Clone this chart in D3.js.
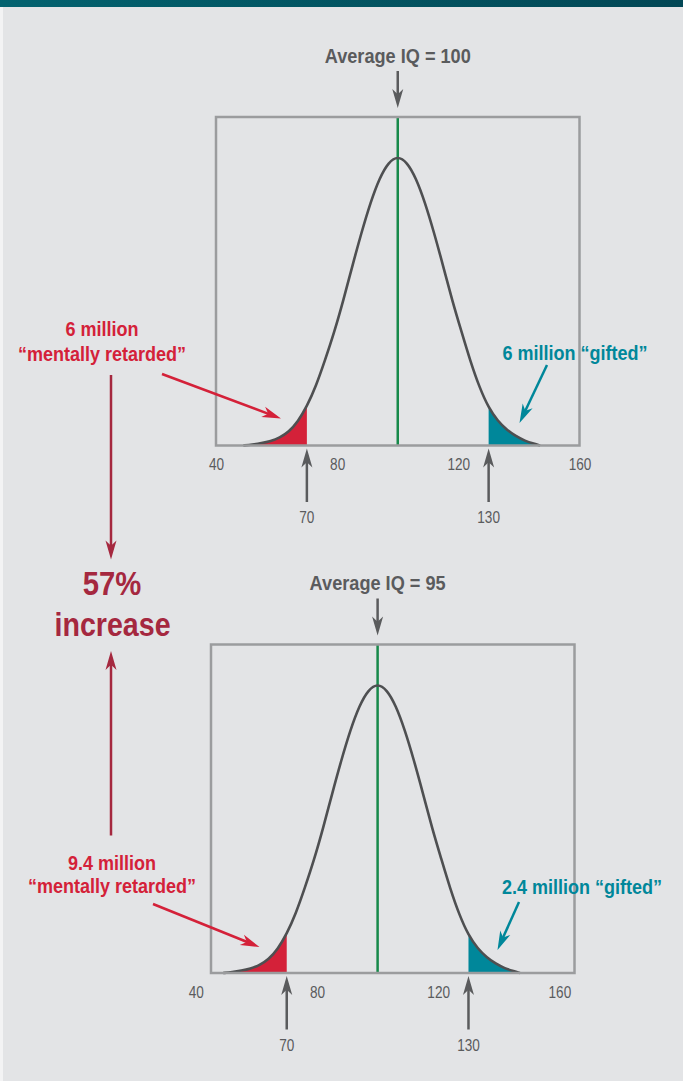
<!DOCTYPE html>
<html>
<head>
<meta charset="utf-8">
<script src="https://cdn.jsdelivr.net/npm/d3@7"></script>
<style>
  html, body { margin: 0; padding: 0; background: #e3e4e6; }
  svg { display: block; }
</style>
</head>
<body>
<svg id="chart" width="683" height="1081"></svg>
<script>
// Bell curve shape: offset from the mean (IQ points) and height relative to the peak
const curveOffsets = [-51, -48, -45, -42, -39, -36, -33, -30, -27, -24, -21, -18, -15, -12, -9, -6, -3, 0,
                      3, 6, 9, 12, 15, 18, 21, 24, 27, 30, 33, 36, 39, 42, 45, 47];
const curveHeights = [0, 0.003, 0.008, 0.015, 0.027, 0.047, 0.082, 0.135, 0.205, 0.295, 0.39, 0.5, 0.62, 0.735, 0.84, 0.925, 0.98, 1,
                      0.98, 0.925, 0.84, 0.735, 0.62, 0.5, 0.395, 0.29, 0.2, 0.13, 0.085, 0.054, 0.032, 0.016, 0.006, 0];

// Panels: population mean and headline
const panelMeans = [100, 95];
const panelTitles = ["Average IQ = 100", "Average IQ = 95"];
const referenceMean = 100;

// IQ axis
const iqDomain = [40, 160];
const tickValues = [40, 80, 120, 160];
const cutoffValues = [70, 130];

// Tail annotations
const lowCounts = ["6 million", "9.4 million"];
const lowLabel = "\u201Cmentally retarded\u201D";
const highLabels = ["6 million \u201Cgifted\u201D", "2.4 million \u201Cgifted\u201D"];
const changeLines = ["57%", "increase"];

// ---------------------------------------------------------------------------
const W = 683, H = 1081;
const C = {
  bg: "#e3e4e6",
  grey: "#5a5b5d",
  box: "#9b9c9e",
  curve: "#4e4f51",
  green: "#17894a",
  red: "#d42139",
  darkRed: "#a5283f",
  teal: "#00879a"
};
const FONT = "'Liberation Sans', Arial, Helvetica, sans-serif";

const svg = d3.select("#chart");

// background, header band and left margin strip
const defs = svg.append("defs");
const grad = defs.append("linearGradient").attr("id", "band").attr("x1", "0%").attr("x2", "100%");
grad.append("stop").attr("offset", "0%").attr("stop-color", "#03626f");
grad.append("stop").attr("offset", "100%").attr("stop-color", "#024755");
svg.append("rect").attr("width", W).attr("height", H).attr("fill", C.bg);
svg.append("rect").attr("width", W).attr("height", 7).attr("fill", "url(#band)");
svg.append("rect").attr("x", 0).attr("y", 7).attr("width", 3).attr("height", H - 7).attr("fill", "#f3f3f4");

// condensed text: regular face squeezed horizontally
function label(g, x, y, text, o) {
  return g.append("text")
    .attr("transform", `translate(${x},${y}) scale(${o.sx || 0.9},1)`)
    .attr("text-anchor", "middle")
    .attr("font-family", FONT)
    .attr("font-size", o.size)
    .attr("font-weight", o.weight || "bold")
    .attr("fill", o.fill)
    .text(text);
}

// straight arrow with a barbed head at (x2, y2)
function arrow(g, x1, y1, x2, y2, color, o = {}) {
  const len = o.len || 19, hw = o.hw || 11, sw = o.sw || 2.5;
  const ang = Math.atan2(y2 - y1, x2 - x1);
  const back = len * 0.7;
  g.append("line")
    .attr("x1", x1).attr("y1", y1)
    .attr("x2", x2 - Math.cos(ang) * back).attr("y2", y2 - Math.sin(ang) * back)
    .attr("stroke", color).attr("stroke-width", sw);
  g.append("path")
    .attr("d", `M0,0 L${-len},${-hw / 2} L${-len * 0.72},0 L${-len},${hw / 2} Z`)
    .attr("transform", `translate(${x2},${y2}) rotate(${ang * 180 / Math.PI})`)
    .attr("fill", color);
}

// panel frames and annotation placement
const frameW = 363.5, frameH = 328.5;
const frames = [{ left: 216, top: 117 }, { left: 211, top: 644.5 }];
const notes = [
  { low: { x: 102, y: [336, 361] }, lowArrow: [162, 374, 281, 418.5],
    high: { x: 575, y: 359.5 }, highArrow: [547, 365, 519.5, 423] },
  { low: { x: 112, y: [869.5, 892.8] }, lowArrow: [153, 904, 259.5, 947],
    high: { x: 582, y: 894 }, highArrow: [519, 902, 497.5, 950] }
];

const curvePoints = curveOffsets.map((d, i) => ({ off: d, h: curveHeights[i] }));

panelMeans.forEach((mean, p) => {
  const f = frames[p];
  const g = svg.append("g").attr("transform", `translate(${f.left},${f.top})`);

  const x = d3.scaleLinear().domain(iqDomain).range([0, frameW]);
  const y = d3.scaleLinear().domain([0, 1.135]).range([frameH, 0]);
  // tick labels travel with the distribution
  const axisX = x.copy().domain(iqDomain.map(v => v + referenceMean - mean));

  const area = d3.area()
    .x(d => x(mean + d.off)).y0(y(0)).y1(d => y(d.h))
    .curve(d3.curveBasis);
  const line = d3.line()
    .x(d => x(mean + d.off)).y(d => y(d.h))
    .curve(d3.curveBasis);

  const lowCut = axisX(cutoffValues[0]);
  const highCut = axisX(cutoffValues[1]);

  const clipLow = `clip-low-${p}`, clipHigh = `clip-high-${p}`;
  defs.append("clipPath").attr("id", clipLow)
    .append("rect").attr("x", 0).attr("y", 0).attr("width", lowCut).attr("height", frameH);
  defs.append("clipPath").attr("id", clipHigh)
    .append("rect").attr("x", highCut).attr("y", 0).attr("width", frameW - highCut).attr("height", frameH);

  g.append("path").datum(curvePoints).attr("d", area)
    .attr("fill", C.red).attr("clip-path", `url(#${clipLow})`);
  g.append("path").datum(curvePoints).attr("d", area)
    .attr("fill", C.teal).attr("clip-path", `url(#${clipHigh})`);

  // mean line
  g.append("line")
    .attr("x1", x(mean)).attr("x2", x(mean))
    .attr("y1", 0).attr("y2", frameH)
    .attr("stroke", C.green).attr("stroke-width", 2.5);

  g.append("path").datum(curvePoints).attr("d", line)
    .attr("fill", "none").attr("stroke", C.curve).attr("stroke-width", 2.6)
    .attr("stroke-linejoin", "round");

  // frame
  g.append("rect").attr("x", 0).attr("y", 0).attr("width", frameW).attr("height", frameH)
    .attr("fill", "none").attr("stroke", C.box).attr("stroke-width", 2.5);

  // tick labels
  const axis = g.append("g").attr("transform", `translate(0,${frameH})`)
    .call(d3.axisBottom(axisX).tickValues(tickValues).tickSize(0).tickFormat(d3.format("d")));
  axis.select(".domain").remove();
  axis.attr("font-size", null).attr("font-family", null);
  axis.selectAll("text")
    .attr("y", 24.8).attr("dy", null)
    .attr("transform", "scale(0.85,1)")
    .attr("font-family", FONT).attr("font-size", 16)
    .attr("fill", C.grey);

  // cutoff markers
  cutoffValues.forEach(v => {
    const cx = axisX(v);
    arrow(g, cx, frameH + 56.5, cx, frameH + 3, C.grey, { len: 19, hw: 11, sw: 2.5 });
    label(g, cx, frameH + 77.6, String(v), { size: 16, weight: "normal", fill: C.grey, sx: 0.85 });
  });

  // headline with arrow to the mean
  label(g, x(mean), -54.5, panelTitles[p], { size: 20.4, fill: C.grey, sx: 0.89 });
  arrow(g, x(mean), -46, x(mean), -9, C.grey, { len: 19, hw: 11, sw: 2.5 });

  // tail annotations
  const n = notes[p];
  label(svg, n.low.x, n.low.y[0], lowCounts[p], { size: 20, fill: C.red });
  label(svg, n.low.x, n.low.y[1], lowLabel, { size: 20, fill: C.red });
  arrow(svg, ...n.lowArrow, C.red, { len: 19, hw: 11, sw: 2.5 });
  label(svg, n.high.x, n.high.y, highLabels[p], { size: 20, fill: C.teal });
  arrow(svg, ...n.highArrow, C.teal, { len: 19, hw: 11, sw: 2.5 });
});

// change between the two panels
label(svg, 112, 595, changeLines[0], { size: 32.5, fill: C.darkRed, sx: 0.9 });
label(svg, 112.5, 635.7, changeLines[1], { size: 32.5, fill: C.darkRed, sx: 0.88 });
arrow(svg, 111, 375, 111, 559.5, C.darkRed, { len: 19, hw: 11, sw: 2.5 });
arrow(svg, 111, 835.5, 111, 651, C.darkRed, { len: 19, hw: 11, sw: 2.5 });
</script>
</body>
</html>
